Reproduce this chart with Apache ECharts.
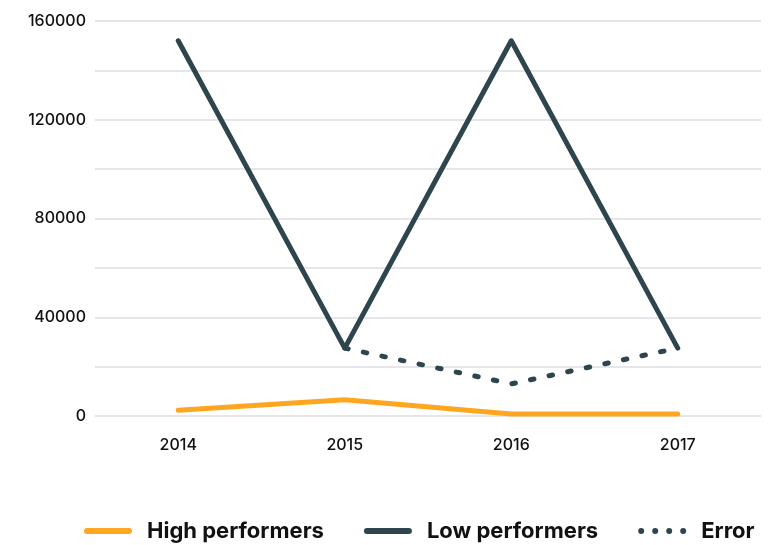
<!DOCTYPE html>
<html>
<head>
<meta charset="utf-8">
<script src="https://cdn.jsdelivr.net/npm/echarts@6/dist/echarts.min.js"></script>
<style>
  html, body { margin: 0; padding: 0; background: #fff; }
  #chart { width: 783px; height: 545px; }
</style>
</head>
<body>
<div id="chart"></div>
<script>
const years = ['2014', '2015', '2016', '2017']
const highPerformers = [2300, 6600, 800, 800]
const lowPerformers = [152000, 27500, 152000, 27500]
const errorValues = [null, 27500, 13000, 27500]

const ORANGE = '#ffa620'
const SLATE = '#2f454d'
// legend icons: a pill for solid lines, four dots for the dashed one
const pillIcon = 'path://M3,0L45,0A3,3 0 0,1 45,6L3,6A3,3 0 0,1 3,0Z'
const dotsIcon = 'path://M3,0A3,3 0 1,1 3,6A3,3 0 1,1 3,0Z M17,0A3,3 0 1,1 17,6A3,3 0 1,1 17,0Z M31,0A3,3 0 1,1 31,6A3,3 0 1,1 31,0Z M45,0A3,3 0 1,1 45,6A3,3 0 1,1 45,0Z'

const chart = echarts.init(document.getElementById('chart'))

const option = {
  animation: false,
  textStyle: { fontFamily: 'Inter' },
  grid: { left: 95, right: 22, top: 21, bottom: 129 },
  legend: {
    top: 515,
    left: 79,
    itemWidth: 48,
    itemHeight: 6,
    itemGap: 40,
    textStyle: { color: '#111', fontSize: 22, fontWeight: 'bold', fontFamily: 'Inter', padding: [0, 0, 0, 10] },
    data: [
      { name: 'High performers', icon: pillIcon },
      { name: 'Low performers', icon: pillIcon },
      { name: 'Error', icon: dotsIcon },
    ],
  },
  xAxis: {
    type: 'category',
    data: years,
    axisLine: { show: false },
    axisTick: { show: false },
    axisLabel: { color: '#111', fontSize: 16, fontWeight: 500, margin: 21 },
  },
  yAxis: {
    type: 'value',
    min: 0,
    max: 160000,
    interval: 20000,
    axisLine: { show: false },
    axisTick: { show: false },
    splitLine: { lineStyle: { color: '#e6e6ea', width: 2 } },
    axisLabel: {
      color: '#111',
      fontSize: 16,
      fontWeight: 500,
      margin: 9,
      formatter: v => (v % 40000 === 0 ? String(v) : ''),
    },
  },
  series: [
    {
      name: 'High performers',
      type: 'line',
      data: highPerformers,
      symbol: 'none',
      lineStyle: { color: ORANGE, width: 5, cap: 'round', join: 'round' },
      itemStyle: { color: ORANGE },
    },
    {
      name: 'Low performers',
      type: 'line',
      data: lowPerformers,
      symbol: 'none',
      lineStyle: { color: SLATE, width: 5, cap: 'round', join: 'round' },
      itemStyle: { color: SLATE },
    },
    {
      name: 'Error',
      type: 'line',
      data: errorValues,
      symbol: 'none',
      lineStyle: { color: SLATE, width: 5, type: [3.5, 15.5], cap: 'round', join: 'round' },
      itemStyle: { color: SLATE },
    },
  ],
}

chart.setOption(option)
</script>
</body>
</html>
